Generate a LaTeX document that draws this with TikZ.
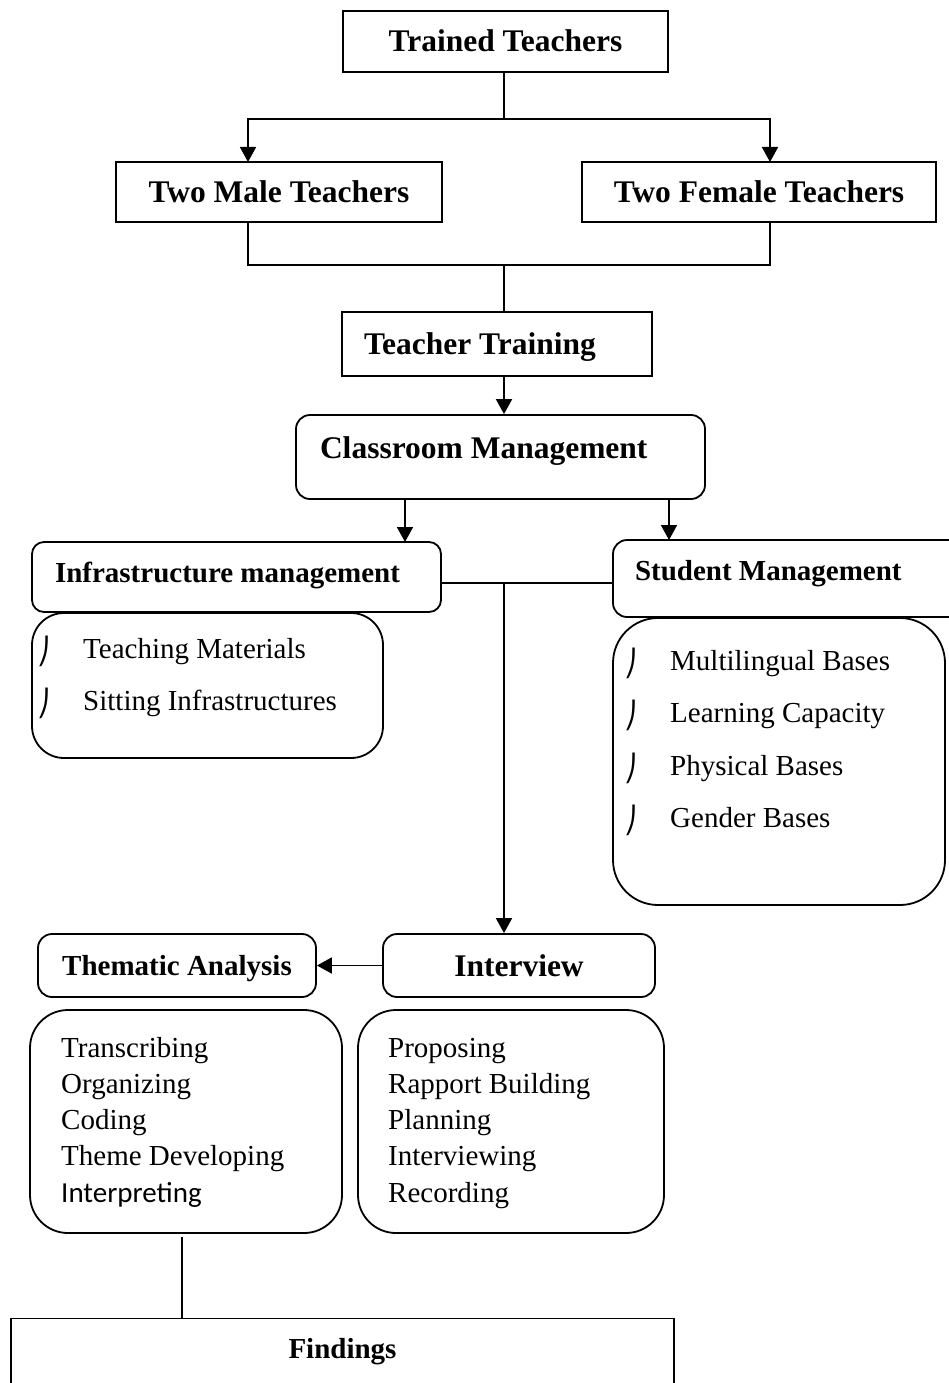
\documentclass[tikz,border=0pt]{standalone}
\usepackage{fontspec}
\setmainfont{Liberation Serif}
\newfontfamily\calfont{Carlito}
\newfontfamily\bulfont{DejaVu Sans}
\usetikzlibrary{arrows.meta}
\newcommand\bul{\makebox[46pt][l]{\raisebox{-2pt}{\bulfont\fontsize{26}{26}\selectfont\char"23A0}}}

\begin{document}
\begin{tikzpicture}[x=1pt,y=-1pt,
	box/.style={draw,line width=1.8pt,inner sep=0pt,text height=21pt,text depth=0pt,font=\bfseries\fontsize{31.5}{36}\selectfont},
	rbox/.style={box,rounded corners=14pt},
	sbox/.style={rbox,text height=19pt,font=\bfseries\fontsize{29}{34}\selectfont},
	list/.style={draw,line width=1.8pt,rounded corners=#1},
	items/.style={inner sep=0pt,anchor=base west,font=\fontsize{29}{#1}\selectfont},
	arr/.style={line width=1.8pt,-{Triangle[length=15pt,width=16pt]}},
	conn/.style={line width=1.8pt}]
\useasboundingbox (0,0) rectangle (949,1383);

\node[box,minimum width=325pt,minimum height=61pt] (trained) at (505.5,41.5) {Trained Teachers};
\node[box,minimum width=326pt,minimum height=60pt] (male) at (279,192) {Two Male Teachers};
\node[box,minimum width=354pt,minimum height=60pt] (female) at (759,192) {Two Female Teachers};
\node[box,minimum width=310pt,minimum height=64pt,text width=266pt,inner xsep=22pt,align=flush left] (training) at (497,344) {Teacher Training};
\node[rbox,minimum width=409pt,minimum height=84pt,text width=361pt,inner xsep=24pt,align=flush left,text depth=18pt] (cm) at (500.5,457) {Classroom Management};

\node[sbox,rounded corners=12pt,minimum width=409pt,minimum height=70pt,text width=363pt,inner xsep=23pt,align=flush left,text depth=9pt] (infra) at (236.5,577) {Infrastructure management};
\node[sbox,minimum width=352pt,minimum height=77pt,text width=308pt,inner xsep=22pt,align=flush left,text depth=16pt] (stud) at (789,578.5) {Student Management};

\node[list=32pt,minimum width=351pt,minimum height=145pt] (infraL) at (207.5,685.5) {};
\node[items=52] (infraT) at (37,658) {\begin{tabular}[t]{@{}l@{}}
	\bul Teaching Materials\\
	\bul Sitting Infrastructures
\end{tabular}};
\node[list=45pt,minimum width=332pt,minimum height=287pt] (studL) at (779,761.5) {};
\node[items=52.5] (studT) at (624,670) {\begin{tabular}[t]{@{}l@{}}
	\bul Multilingual Bases\\
	\bul Learning Capacity\\
	\bul Physical Bases\\
	\bul Gender Bases
\end{tabular}};

\node[sbox,minimum width=278pt,minimum height=63pt] (them) at (177,965.5) {Thematic Analysis};
\node[rbox,minimum width=272pt,minimum height=63pt] (intv) at (519,965.5) {Interview};
\node[list=38pt,minimum width=312pt,minimum height=223pt] (themL) at (186,1121.5) {};
\node[items=36.3] (themT) at (61,1057) {\begin{tabular}[t]{@{}l@{}}
	Transcribing\\
	Organizing\\
	Coding\\
	Theme Developing\\
	{\calfont Interpreting}
\end{tabular}};
\node[list=38pt,minimum width=306pt,minimum height=223pt] (intvL) at (511,1121.5) {};
\node[items=36.3] (intvT) at (388,1057) {\begin{tabular}[t]{@{}l@{}}
	Proposing\\
	Rapport Building\\
	Planning\\
	Interviewing\\
	Recording
\end{tabular}};

\node[box,line width=1.4pt,anchor=north,minimum width=663pt,text height=40pt,text depth=60pt,font=\bfseries\fontsize{29}{34}\selectfont] (find) at (342.5,1318) {Findings};

\coordinate (split) at (504,119);
\coordinate (maleIn) at (248,162);
\coordinate (femaleIn) at (770,162);
\coordinate (maleOut) at (248,222);
\coordinate (femaleOut) at (770,222);
\coordinate (merge) at (504,265);
\coordinate (infraIn) at (405,542);
\coordinate (studIn) at (669,540);
\coordinate (hub) at (504,583);
\coordinate (tail) at (182,1237);

\draw[conn] (trained.south -| split) -- (split);
\draw[arr] (split) -| (maleIn);
\draw[arr] (split) -| (femaleIn);
\draw[conn] (maleOut) |- (merge) -| (femaleOut);
\draw[conn] (merge) -- (merge |- training.north);
\draw[arr] (training.south -| merge) -- (cm.north -| merge);
\draw[arr] (cm.south -| infraIn) -- (infraIn);
\draw[arr] (cm.south -| studIn) -- (studIn);
\draw[conn] (infra.east |- hub) -- (stud.west |- hub);
\draw[arr] (hub) -- (hub |- intv.north);
\draw[arr] (intv.west) -- (them.east);
\draw[conn,line width=1.3pt] (tail) -- (tail |- find.north);
\end{tikzpicture}
\end{document}
